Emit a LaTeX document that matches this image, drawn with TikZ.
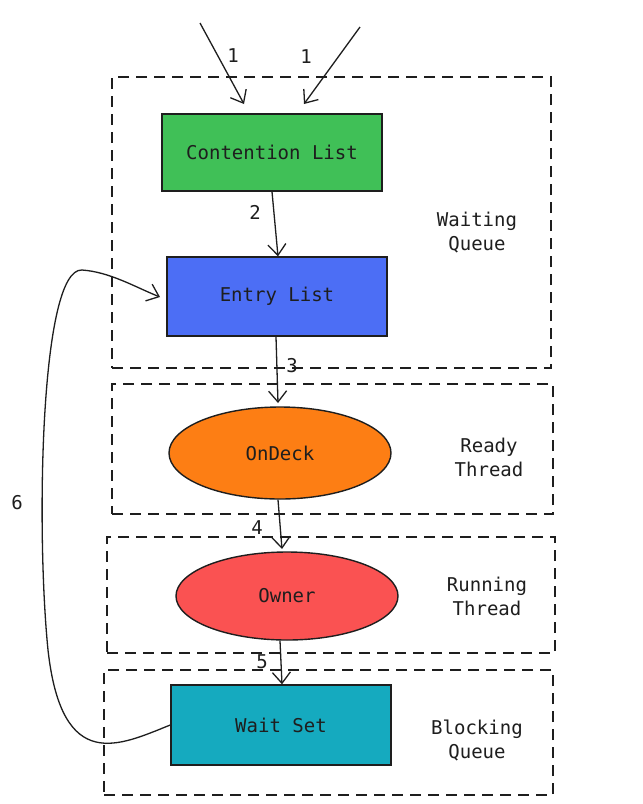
\documentclass[tikz,border=0pt]{standalone}
\usepackage{fontspec}
\setmonofont{DejaVu Sans Mono}
\usetikzlibrary{arrows.meta,shapes.geometric}
\definecolor{inkc}{HTML}{1E1E1E}
\definecolor{greenc}{HTML}{40C057}
\definecolor{bluec}{HTML}{4C6EF5}
\definecolor{orangec}{HTML}{FD7E14}
\definecolor{redc}{HTML}{FA5252}
\definecolor{cyanc}{HTML}{15AABF}
\tikzset{
  txt/.style={font=\ttfamily\fontsize{19}{24}\selectfont, text=inkc},
  grp/.style={draw=inkc, line width=1.3pt, dash pattern=on 11pt off 7pt, rectangle, inner sep=0pt},
  rbox/.style={txt, draw=inkc, line width=1.4pt, rectangle, minimum width=220pt, inner sep=0pt},
  ell/.style={txt, draw=inkc, line width=1.4pt, ellipse, inner sep=0pt},
  flow/.style={draw=inkc, line width=1.3pt, -{Straight Barb[length=11pt,width=18pt,line width=1.3pt]}},
  num/.style={font=\ttfamily\fontsize{19}{24}\selectfont, text=inkc, inner sep=0pt},
  side/.style={txt, align=center, inner sep=0pt}
}
\begin{document}
\begin{tikzpicture}[x=1pt,y=-1pt]
\useasboundingbox (0,0) rectangle (643,804);
\fill[white] (0,0) rectangle (643,804);
% group boxes
\node[grp, minimum width=439pt, minimum height=291pt] (gwait) at (331.5,222.5) {};
\node[grp, minimum width=441pt, minimum height=130pt] (gready) at (332.5,449) {};
\node[grp, minimum width=448pt, minimum height=116pt] (grun) at (331,595) {};
\node[grp, minimum width=449pt, minimum height=125pt] (gblock) at (328.5,732.5) {};
% side labels
\node[side] (lwait) at (477,233) {Waiting\\Queue};
\node[side] (lready) at (489,457) {Ready\\Thread};
\node[side] (lrun) at (487,596) {Running\\Thread};
\node[side] (lblock) at (477,740) {Blocking\\Queue};
% main nodes
\node[rbox, fill=greenc, minimum height=77pt] (cl) at (272,152.5) {Contention List};
\node[rbox, fill=bluec, minimum height=79pt] (el) at (277,296.5) {Entry List};
\node[ell, fill=orangec, minimum width=222pt, minimum height=92pt] (od) at (280,453) {OnDeck};
\node[ell, fill=redc, minimum width=222pt, minimum height=88pt] (ow) at (287,596) {Owner};
\node[rbox, fill=cyanc, minimum height=80pt] (ws) at (281,725) {Wait Set};
% incoming arrows
\coordinate (s1) at (200,23);
\coordinate (s2) at (360,27);
\coordinate (t1) at (244,104);
\coordinate (t2) at (304,104);
\draw[flow] (s1) -- (t1);
\draw[flow] (s2) -- (t2);
\node[num] (n1a) at (233,56) {1};
\node[num] (n1b) at (306,57) {1};
% flow arrows
\draw[flow] (cl.south -| 272,0) -- (el.north -| 278,0);
\node[num] (n2) at (255,212) {2};
\draw[flow] (el.south -| 276,0) -- (278,403);
\node[num] (n3) at (292,366) {3};
\draw[flow] (od.south -| 278,0) -- (282,549);
\node[num] (n4) at (257,528) {4};
\draw[flow] (ow.south -| 280,0) -- (ws.north -| 282,0);
\node[num] (n5) at (262,662) {5};
% arrow 6
\draw[flow] (ws.west) .. controls (120,745) and (62,775) .. (48,650)
   .. controls (36,530) and (40,268) .. (82,270)
   .. controls (110,272) and (135,287) .. (160,297);
\node[num] (n6) at (17,503) {6};
\end{tikzpicture}
\end{document}
